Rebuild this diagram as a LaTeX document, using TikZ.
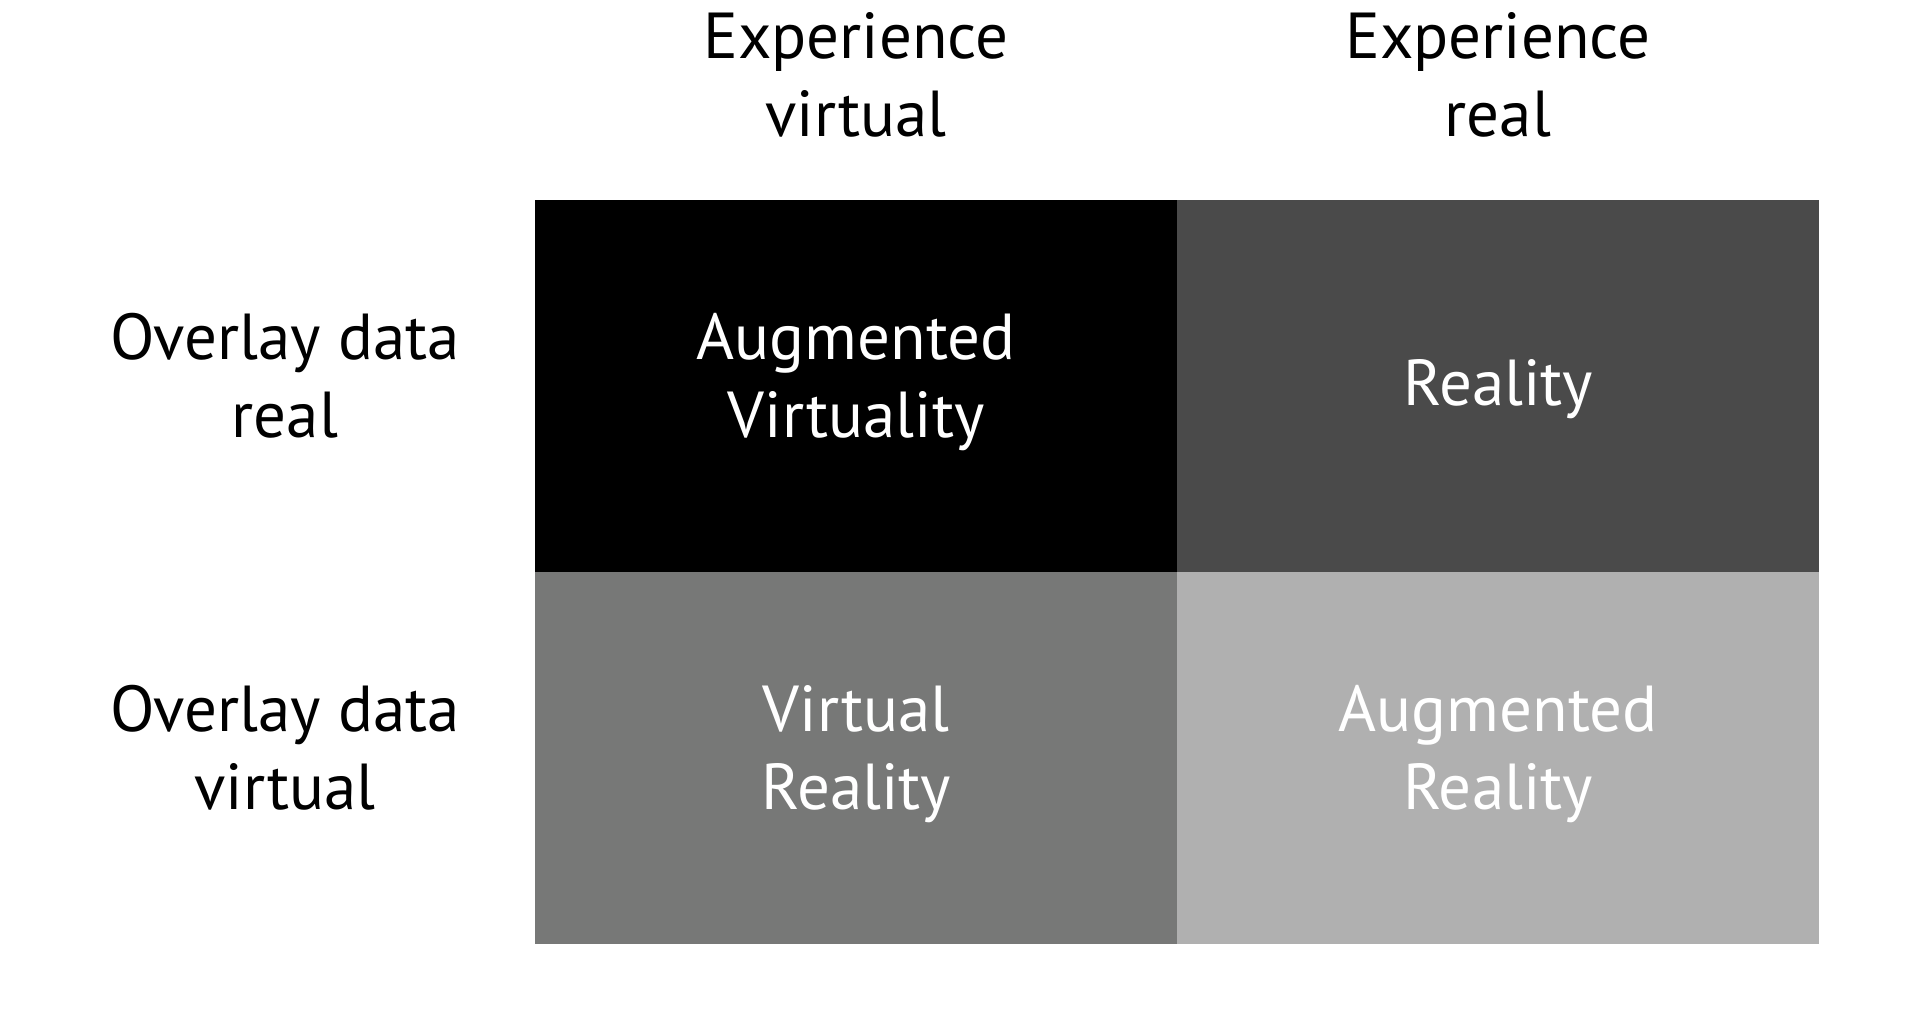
\documentclass[tikz,border=0pt]{standalone}
\usepackage{fontspec}
\setmainfont{PT Sans}
\begin{document}
\begin{tikzpicture}[x=1pt,y=-1pt,
  lbl/.style={align=center,font=\fontsize{65}{78}\selectfont,inner sep=0pt},
  cell/.style={inner sep=0pt,minimum width=642pt,minimum height=372pt,anchor=north west},
  celltext/.style={lbl,text=white,yshift=4pt}]
\useasboundingbox[fill=white] (0,0) rectangle (1920,1018);
% 2x2 grid of cells
\node[cell,fill=black]            (av) at (535,200) {};
\node[cell,fill={rgb,255:red,74;green,74;blue,74}]    (re) at (1177,200) {};
\node[cell,fill={rgb,255:red,119;green,120;blue,119}] (vr) at (535,572) {};
\node[cell,fill={rgb,255:red,176;green,176;blue,176}] (ar) at (1177,572) {};
% cell captions
\node[celltext] (avt) at (av.center) {Augmented\\Virtuality};
\node[celltext,yshift=-7pt] (ret) at (re.center) {Reality};
\node[celltext] (vrt) at (vr.center) {Virtual\\Reality};
\node[celltext] (art) at (ar.center) {Augmented\\Reality};
% column headers
\node[lbl] (ev) at (856,75) {Experience\\virtual};
\node[lbl] (er) at (1498,75) {Experience\\real};
% row headers
\node[lbl] (odr) at (285,376) {Overlay data\\real};
\node[lbl] (odv) at (285,748) {Overlay data\\virtual};
\end{tikzpicture}
\end{document}
